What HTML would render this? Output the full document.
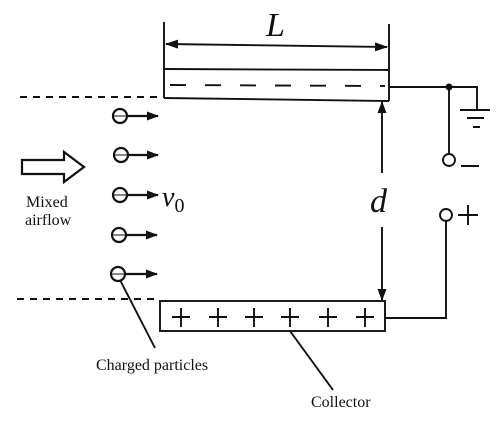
<!DOCTYPE html>
<html><head><meta charset="utf-8"><style>
html,body{margin:0;padding:0;background:#fff;}
svg{display:block;}
text{font-family:"Liberation Serif",serif;fill:#111;}
</style></head><body>
<svg width="498" height="441" viewBox="0 0 498 441">
<defs>
<marker id="ah" markerWidth="12" markerHeight="9" refX="11" refY="4.5" orient="auto" markerUnits="userSpaceOnUse">
<path d="M0,0 L12,4.5 L0,9 Z" fill="#111"/></marker>
<marker id="ah2" markerWidth="13" markerHeight="9" refX="12" refY="4.5" orient="auto-start-reverse" markerUnits="userSpaceOnUse">
<path d="M0,0 L13,4.5 L0,9 Z" fill="#111"/></marker>
</defs>
<g stroke="#111" stroke-width="1.9" fill="none">
<g>
<line x1="164" y1="22" x2="164" y2="98"/>
<line x1="389" y1="24" x2="389" y2="101"/>
<line x1="164" y1="69" x2="389" y2="70"/>
<line x1="164" y1="98" x2="389" y2="101"/>
<line x1="170" y1="85" x2="385" y2="86" stroke-dasharray="16,19"/>
</g>
<line x1="166" y1="44" x2="387" y2="47" marker-start="url(#ah2)" marker-end="url(#ah2)"/>
<line x1="20" y1="97" x2="162" y2="97" stroke-dasharray="7,6"/>
<line x1="17" y1="299" x2="158" y2="299" stroke-dasharray="7,6"/>
<g>
<rect x="160" y="301" width="225" height="30"/>
<path d="M172,317h18M181,308v19 M209,317h18M218,308v19 M245,317h18M254,308v19 M281,317h18M290,308v19 M319,317h18M328,308v19 M356,317h18M365,308v19"/>
</g>
<g>
<path d="M389,87 H477 V110"/>
<path d="M460,110 H490 M467,118 H484 M473,127 H480"/>
<line x1="449" y1="87" x2="449" y2="154"/>
<circle cx="449" cy="87" r="2.5" fill="#111"/>
<circle cx="449" cy="160" r="6" fill="#fff"/>
<line x1="461" y1="166" x2="479" y2="166"/>
<circle cx="446" cy="215" r="6" fill="#fff"/>
<path d="M458,215 H478 M468,205 V225"/>
<path d="M446,221 V318 H385"/>
</g>
<line x1="382" y1="173" x2="382" y2="102" marker-end="url(#ah)"/>
<line x1="382" y1="227" x2="382" y2="300" marker-end="url(#ah)"/>
<g stroke-width="2.2">
<g><circle cx="120" cy="116" r="7"/><line x1="114" y1="116" x2="126" y2="116" stroke-width="1"/><line x1="127" y1="116" x2="158" y2="116" marker-end="url(#ah)"/></g>
<g><circle cx="121" cy="155" r="7"/><line x1="115" y1="155" x2="127" y2="155" stroke-width="1"/><line x1="128" y1="155" x2="158" y2="155" marker-end="url(#ah)"/></g>
<g><circle cx="120" cy="195" r="7"/><line x1="114" y1="195" x2="126" y2="195" stroke-width="1"/><line x1="127" y1="195" x2="158" y2="195" marker-end="url(#ah)"/></g>
<g><circle cx="119" cy="235" r="7"/><line x1="113" y1="235" x2="125" y2="235" stroke-width="1"/><line x1="126" y1="235" x2="157" y2="235" marker-end="url(#ah)"/></g>
<g><circle cx="118" cy="274" r="7"/><line x1="112" y1="274" x2="124" y2="274" stroke-width="1"/><line x1="125" y1="274" x2="157" y2="274" marker-end="url(#ah)"/></g>
</g>
<path d="M22,160 H64 V152 L84,167 L64,182 V174 H22 Z" stroke-width="2.2"/>
<line x1="120" y1="280" x2="155" y2="348"/>
<line x1="290" y1="331" x2="333" y2="390"/>
</g>
<text x="266" y="36" font-size="34" font-style="italic">L</text>
<text x="370" y="212" font-size="34" font-style="italic">d</text>
<text x="162" y="206" font-size="28" font-style="italic">v<tspan font-size="20" font-style="normal" dy="6">0</tspan></text>
<text x="26" y="207" font-size="16">Mixed</text>
<text x="25" y="225" font-size="16">airflow</text>
<text x="96" y="370" font-size="16">Charged particles</text>
<text x="311" y="407" font-size="16">Collector</text>
</svg>
</body></html>
